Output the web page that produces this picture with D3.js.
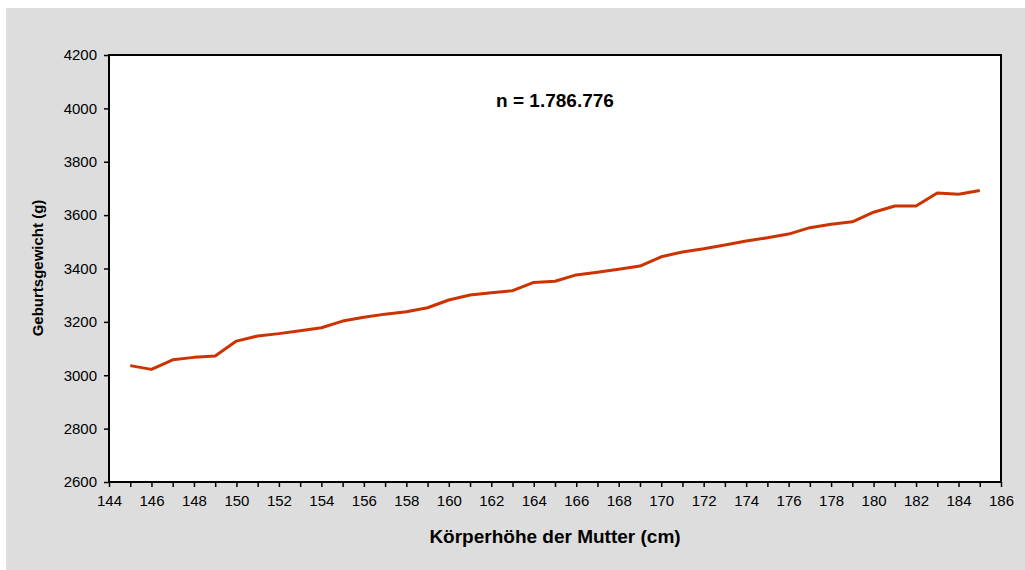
<!DOCTYPE html>
<html>
<head>
<meta charset="utf-8">
<script src="https://cdn.jsdelivr.net/npm/d3@7"></script>
<style>
  body { margin: 0; background: #ffffff; }
  svg { display: block; font-family: "Liberation Sans", Arial, sans-serif; }
</style>
</head>
<body>
<script>
let width = 1025;
let height = 570;

// Körperhöhe der Mutter (cm)
let heights = [145, 146, 147, 148, 149, 150, 151, 152, 153, 154, 155, 156, 157, 158, 159, 160,
               161, 162, 163, 164, 165, 166, 167, 168, 169, 170, 171, 172, 173, 174, 175, 176,
               177, 178, 179, 180, 181, 182, 183, 184, 185];
// Geburtsgewicht (g)
let weights = [3036, 3022, 3058, 3067, 3072, 3128, 3147, 3156, 3167, 3178, 3203, 3217, 3229, 3238, 3253, 3282,
               3301, 3309, 3317, 3348, 3352, 3376, 3386, 3397, 3409, 3444, 3462, 3474, 3488, 3503, 3515, 3529,
               3553, 3566, 3575, 3611, 3634, 3634, 3683, 3678, 3692];

let xTicks = d3.range(144, 187, 1);
let yTicks = d3.range(2600, 4201, 200);

let plot = { left: 109, right: 1001, top: 55, bottom: 482 };

let svg = d3.select('body').append('svg')
            .attr('width', width)
            .attr('height', height);

// grey chart background
svg.append('rect')
    .attr('x', 6).attr('y', 8)
    .attr('width', width - 6).attr('height', height - 8)
    .attr('fill', '#dddddd');

let xScale = d3.scaleLinear().domain([144, 186]).range([plot.left, plot.right]);
let yScale = d3.scaleLinear().domain([2600, 4200]).range([plot.bottom, plot.top]);

// plot area
svg.append('rect')
    .attr('x', plot.left).attr('y', plot.top)
    .attr('width', plot.right - plot.left)
    .attr('height', plot.bottom - plot.top)
    .attr('fill', '#ffffff');

let xAxis = d3.axisBottom(xScale)
    .tickValues(xTicks)
    .tickSize(5)
    .tickPadding(8)
    .tickFormat(function(d) { return d % 2 === 0 ? d : ''; });

let yAxis = d3.axisLeft(yScale)
    .tickValues(yTicks)
    .tickSize(5)
    .tickPadding(7)
    .tickFormat(d3.format('d'));

let gx = svg.append('g')
    .attr('transform', 'translate(0,' + plot.bottom + ')')
    .call(xAxis);

let gy = svg.append('g')
    .attr('transform', 'translate(' + plot.left + ',0)')
    .call(yAxis);

[gx, gy].forEach(function(g) {
    g.select('.domain').remove();
    g.selectAll('line').attr('stroke', '#000').attr('stroke-width', 1.5);
    g.selectAll('text').attr('fill', '#000').style('font-size', '15px');
});

// data line
let line = d3.line()
    .x(function(d, i) { return xScale(heights[i]); })
    .y(function(d) { return yScale(d); });

svg.append('path')
    .datum(weights)
    .attr('d', line)
    .attr('fill', 'none')
    .attr('stroke', '#cc3300')
    .attr('stroke-width', 3)
    .attr('stroke-linejoin', 'round');

// plot border
svg.append('rect')
    .attr('x', plot.left).attr('y', plot.top)
    .attr('width', plot.right - plot.left)
    .attr('height', plot.bottom - plot.top)
    .attr('fill', 'none')
    .attr('stroke', '#000')
    .attr('stroke-width', 2);

svg.append('text')
    .attr('x', (plot.left + plot.right) / 2)
    .attr('y', 107)
    .attr('text-anchor', 'middle')
    .style('font-size', '19px')
    .style('font-weight', 'bold')
    .text('n = 1.786.776');

svg.append('text')
    .attr('x', 555)
    .attr('y', 543)
    .attr('text-anchor', 'middle')
    .style('font-size', '19px')
    .style('font-weight', 'bold')
    .text('Körperhöhe der Mutter (cm)');

svg.append('text')
    .attr('transform', 'translate(43,268) rotate(-90)')
    .attr('text-anchor', 'middle')
    .style('font-size', '15px')
    .style('font-weight', 'bold')
    .text('Geburtsgewicht (g)');
</script>
</body>
</html>
